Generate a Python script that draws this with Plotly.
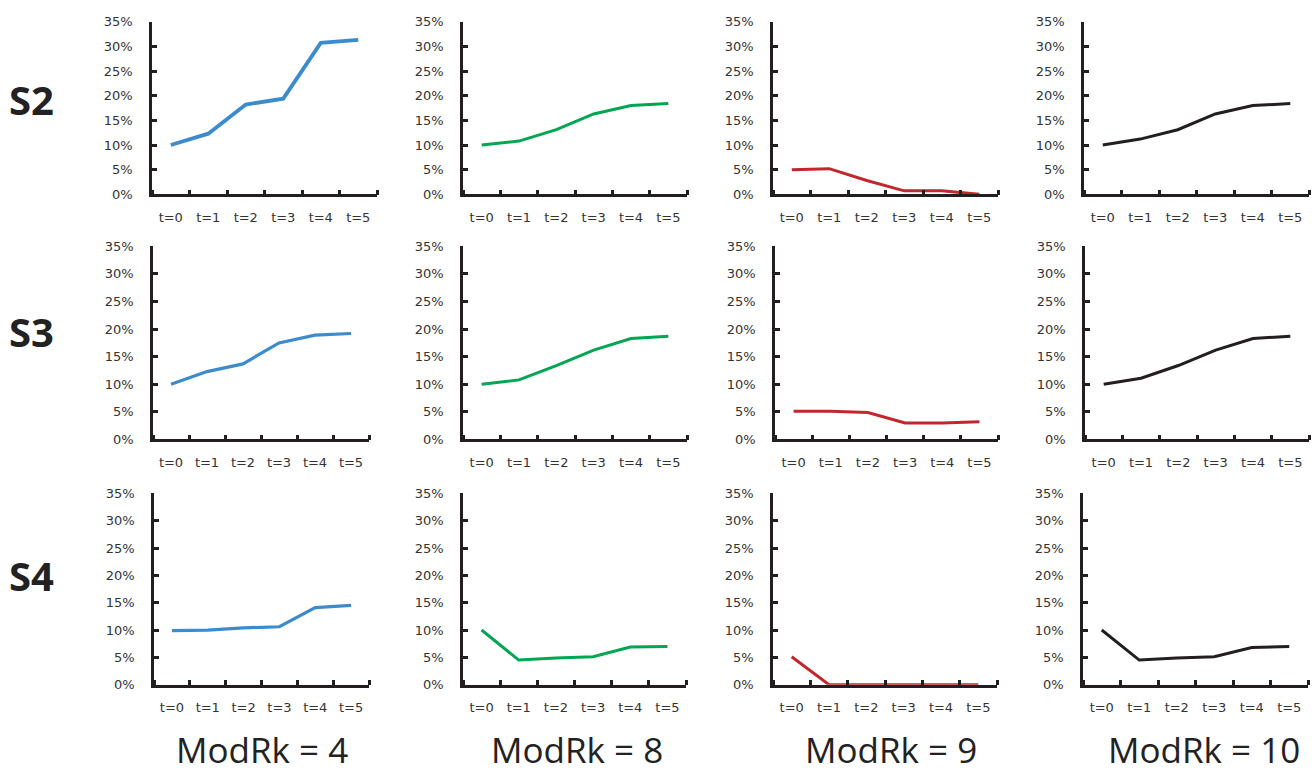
import plotly.graph_objects as go
from plotly.subplots import make_subplots

# Periods on the horizontal axis
periods = ["t=0", "t=1", "t=2", "t=3", "t=4", "t=5"]

# Scenario rows and ModRk columns
scenarios = ["S2", "S3", "S4"]
modrk_labels = ["ModRk = 4", "ModRk = 8", "ModRk = 9", "ModRk = 10"]

# Share values (%) per scenario, one list per ModRk column
s2_modrk4 = [10.0, 12.3, 18.2, 19.4, 30.7, 31.3]
s2_modrk8 = [10.0, 10.8, 13.1, 16.3, 18.0, 18.4]
s2_modrk9 = [5.0, 5.2, 2.8, 0.7, 0.7, 0.0]
s2_modrk10 = [10.0, 11.2, 13.1, 16.3, 18.0, 18.4]

s3_modrk4 = [10.0, 12.3, 13.7, 17.5, 18.9, 19.2]
s3_modrk8 = [10.0, 10.8, 13.4, 16.2, 18.3, 18.7]
s3_modrk9 = [5.1, 5.1, 4.9, 3.0, 3.0, 3.2]
s3_modrk10 = [10.0, 11.1, 13.4, 16.2, 18.3, 18.7]

s4_modrk4 = [9.9, 10.0, 10.4, 10.6, 14.1, 14.5]
s4_modrk8 = [10.0, 4.5, 4.9, 5.1, 6.9, 7.0]
s4_modrk9 = [5.1, 0.0, 0.0, 0.0, 0.0, 0.0]
s4_modrk10 = [10.0, 4.5, 4.9, 5.1, 6.8, 7.0]

y_ticks = [0, 5, 10, 15, 20, 25, 30, 35]
y_tick_text = ["0%", "5%", "10%", "15%", "20%", "25%", "30%", "35%"]

series = [
    [s2_modrk4, s2_modrk8, s2_modrk9, s2_modrk10],
    [s3_modrk4, s3_modrk8, s3_modrk9, s3_modrk10],
    [s4_modrk4, s4_modrk8, s4_modrk9, s4_modrk10],
]

# Styling
W, H = 1315, 778
col_colors = ["#3C8CCD", "#00A651", "#C1272D", "#231F20"]
line_widths = [[3.8, 3, 3, 3], [3.2, 3, 3, 3], [3.2, 3, 3, 3]]
# pixel extents of each panel's plot area (left, right) and (top, bottom)
x_px = [
    [(152, 377), (463, 687), (773, 998), (1084, 1309)],
    [(153, 369), (463, 687), (775, 998), (1085, 1309)],
    [(154, 369), (463, 686), (773, 997), (1083, 1308)],
]
y_px = [(15, 191), (244, 441), (496, 691)]
row_label_y = [94, 331, 580]
col_label_x = [262, 577, 891, 1204]

# period positions: one slot per period, marks centred in each slot
slot_pos = list(range(len(periods)))
slot_edges = [i - 0.5 for i in range(len(periods) + 1)]

fig = make_subplots(rows=3, cols=4)

axis_color = "#231F20"
tick_font = dict(family="DejaVu Sans", size=13, color="#333333")

for r in range(3):
    for c in range(4):
        fig.add_trace(
            go.Scatter(
                x=slot_pos,
                y=series[r][c],
                customdata=periods,
                mode="lines",
                line=dict(color=col_colors[c], width=line_widths[r][c]),
                showlegend=False,
                hoverinfo="skip",
            ),
            row=r + 1,
            col=c + 1,
        )
        x0, x1 = x_px[r][c]
        top, bottom = y_px[r]
        fig.update_xaxes(
            domain=[x0 / W, x1 / W],
            range=[slot_edges[0], slot_edges[-1]],
            tickvals=slot_pos,
            ticktext=periods,
            ticks="",
            showgrid=False,
            zeroline=False,
            showline=True,
            linecolor=axis_color,
            linewidth=2.5,
            tickfont=tick_font,
            ticklabelstandoff=9,
            minor=dict(
                tickvals=slot_edges,
                ticks="inside",
                ticklen=5,
                tickwidth=2.5,
                tickcolor=axis_color,
                showgrid=False,
            ),
            fixedrange=True,
            row=r + 1,
            col=c + 1,
        )
        fig.update_yaxes(
            domain=[1 - bottom / H, 1 - top / H],
            range=[0, 35],
            tickvals=y_ticks,
            ticktext=y_tick_text,
            showgrid=False,
            zeroline=False,
            showline=True,
            linecolor=axis_color,
            linewidth=2.5,
            ticks="inside",
            ticklen=5,
            tickwidth=2.5,
            tickcolor=axis_color,
            tickfont=tick_font,
            ticklabelstandoff=14,
            fixedrange=True,
            row=r + 1,
            col=c + 1,
        )

# Scenario labels on the left
for name, yc in zip(scenarios, row_label_y):
    fig.add_annotation(
        text=f"<b>{name}</b>",
        x=31 / W,
        y=1 - yc / H,
        xref="paper",
        yref="paper",
        xanchor="center",
        yanchor="middle",
        showarrow=False,
        font=dict(family="Open Sans", size=40, color="#222222"),
    )

# ModRk labels along the bottom
for name, xc in zip(modrk_labels, col_label_x):
    fig.add_annotation(
        text=name,
        x=xc / W,
        y=1 - 757 / H,
        xref="paper",
        yref="paper",
        xanchor="center",
        yanchor="middle",
        showarrow=False,
        font=dict(family="Open Sans", size=35, color="#222222"),
    )

fig.update_layout(
    width=W,
    height=H,
    margin=dict(l=0, r=0, t=0, b=0),
    paper_bgcolor="white",
    plot_bgcolor="white",
)

fig.write_html("out.html")
